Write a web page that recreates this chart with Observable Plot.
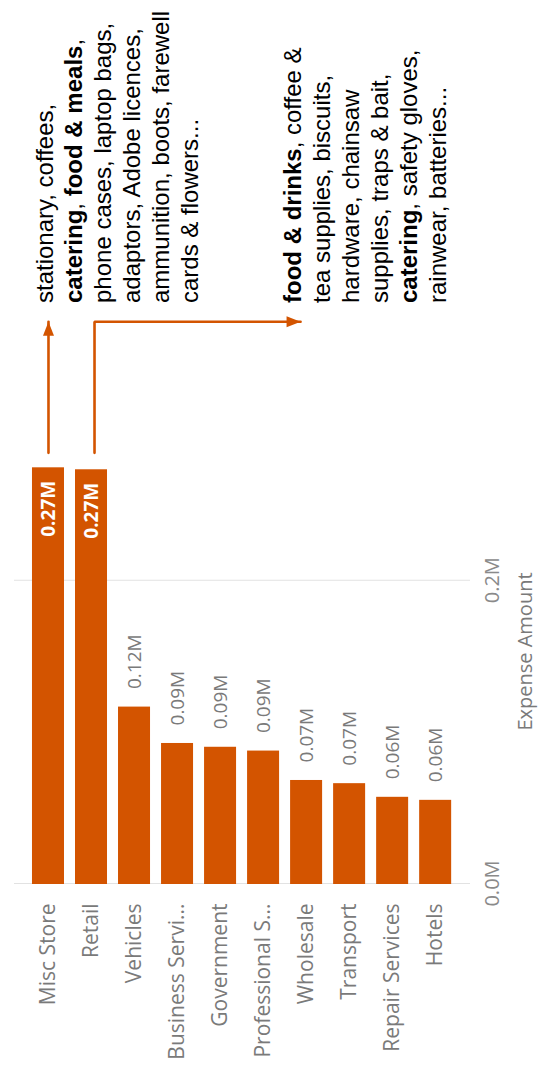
<!DOCTYPE html>
<html>
<head>
<meta charset="utf-8">
<script src="https://cdn.jsdelivr.net/npm/d3@7"></script>
<script src="https://cdn.jsdelivr.net/npm/@observablehq/plot@0.6"></script>
<style>
  html, body { margin: 0; padding: 0; background: #fff; overflow: hidden; width: 542px; height: 1073px; }
  #stage { position: absolute; left: 0; top: 0; width: 1073px; height: 542px;
           transform-origin: 0 0; transform: translate(0, 1073px) rotate(-90deg); }
  #stage svg { position: absolute; left: 0; top: 0; overflow: visible; }
  .note { position: absolute; left: 770px; font-family: "Liberation Sans", Arial, sans-serif;
          font-size: 24px; line-height: 28.9px; color: #000; white-space: nowrap; }
  .note b { font-weight: bold; }
</style>
</head>
<body>
<div id="stage"></div>
<script>
// ---- data ----
const categories = ["Misc Store", "Retail", "Vehicles", "Business Services", "Government",
  "Professional Services", "Wholesale", "Transport", "Repair Services", "Hotels"];
const tickLabels = ["Misc Store", "Retail", "Vehicles", "Business Servi...", "Government",
  "Professional S...", "Wholesale", "Transport", "Repair Services", "Hotels"];
const values = [274800, 273500, 117000, 93000, 90500, 88000, 68600, 66500, 57500, 55500];
const valueLabels = ["0.27M", "0.27M", "0.12M", "0.09M", "0.09M", "0.09M", "0.07M", "0.07M", "0.06M", "0.06M"];
const xTicks = [0, 200000];
const xTickLabels = ["0.0M", "0.2M"];
const xDomainMax = 306000;
const axisTitle = "Expense Amount";

// annotation texts (** marks bold)
const note1Lines = ["stationary, coffees,", "**catering**, **food & meals**,", "phone cases, laptop bags,",
  "adaptors, Adobe licences,", "ammunition, boots, farewell", "cards & flowers..."];
const note2Lines = ["**food & drinks**, coffee &", "tea supplies, biscuits,", "hardware, chainsaw",
  "supplies, traps & bait,", "**catering**, safety gloves,", "rainwear, batteries..."];

// annotation arrows, in data units (x = amount, y = category index)
const arrowStartX = 284000;
const arrowEndX = 370500;
const arrow1 = [{x: arrowStartX, y: 0}, {x: arrowEndX, y: 0}];
const arrow2 = [{x: arrowStartX, y: 1.07}, {x: arrowEndX, y: 1.07}, {x: arrowEndX, y: 5.86}];
const arrowTips = [{x: arrowEndX, y: 0, rotate: 90}, {x: arrowEndX, y: 5.86, rotate: 180}];

// ---- chart ----
const barColor = "#D35400";
const data = categories.map((c, i) => ({i, category: c, value: values[i], label: valueLabels[i]}));
const half = 0.372;
const arrowHead = {
  draw(ctx) { ctx.moveTo(0, 0); ctx.lineTo(-5.5, 14); ctx.lineTo(5.5, 14); ctx.closePath(); }
};

const chart = Plot.plot({
  width: 1073,
  height: 542,
  marginLeft: 189,
  marginRight: 420,
  marginTop: 14,
  marginBottom: 72,
  style: {fontFamily: '"Open Sans", sans-serif', fontSize: "20px", background: "transparent", overflow: "visible"},
  x: {domain: [0, xDomainMax], axis: null},
  y: {domain: [-0.79, 9.81], reverse: true, axis: null},
  marks: [
    Plot.ruleX(xTicks, {stroke: "#e2e2e2", strokeWidth: 1.2}),
    Plot.axisX(xTicks, {tickFormat: d => xTickLabels[xTicks.indexOf(d)], tickSize: 0, tickPadding: 14,
      fontSize: 20, color: "#8a8a8a", label: null}),
    Plot.axisY(d3.range(categories.length), {tickFormat: d => tickLabels[d], tickSize: 0, tickPadding: 20,
      fontSize: 21, color: "#7a7a7a", label: null}),
    Plot.rect(data, {x1: 0, x2: "value", y1: d => d.i - half, y2: d => d.i + half, fill: barColor}),
    Plot.text(data.filter(d => d.value < 250000), {x: "value", y: "i", text: "label", textAnchor: "start",
      dx: 17, fontSize: 19, fill: "#7a7a7a"}),
    Plot.text(data.filter(d => d.value >= 250000), {x: "value", y: "i", text: "label", textAnchor: "end",
      dx: -14, fontSize: 19, fontWeight: "bold", fill: "#ffffff"}),
    Plot.text([axisTitle], {frameAnchor: "bottom", dy: 61, fontSize: 20, fill: "#7a7a7a"}),
    Plot.line(arrow1, {x: "x", y: "y", stroke: barColor, strokeWidth: 2.6}),
    Plot.line(arrow2, {x: "x", y: "y", stroke: barColor, strokeWidth: 2.6, strokeLinejoin: "miter"}),
    Plot.dot(arrowTips, {x: "x", y: "y", rotate: "rotate", symbol: arrowHead, fill: barColor, stroke: "none", r: 5})
  ]
});

const stage = document.getElementById("stage");
stage.appendChild(chart);

function addNote(lines, top) {
  const div = document.createElement("div");
  div.className = "note";
  div.style.top = top + "px";
  lines.forEach((line, k) => {
    line.split("**").forEach((part, j) => {
      if (!part) return;
      const el = document.createElement(j % 2 ? "b" : "span");
      el.textContent = part;
      div.appendChild(el);
    });
    if (k < lines.length - 1) div.appendChild(document.createElement("br"));
  });
  stage.appendChild(div);
}
addNote(note1Lines, 31);
addNote(note2Lines, 279);
</script>
</body>
</html>
